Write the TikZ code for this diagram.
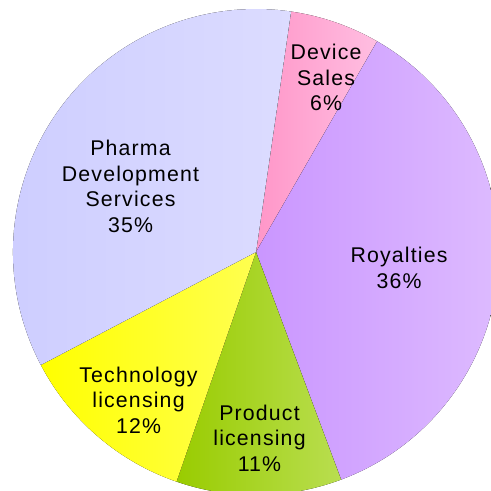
\documentclass[tikz,border=0pt]{standalone}
\usepackage{fontspec}
\setmainfont{Liberation Sans}[LetterSpace=5.5]
\begin{document}
\begin{tikzpicture}[x=1pt,y=1pt,
  lbl/.style={align=center,inner sep=0pt,font=\fontsize{21.3}{25.5}\selectfont},
]
\def\R{243}
\useasboundingbox (0,0) rectangle (491,491);
\clip (0,0) rectangle (491,491);
\coordinate (c) at (256,239);
% Device Sales 6%
\fill[left color={rgb,255:red,255;green,150;blue,200}, right color={rgb,255:red,255;green,190;blue,225}]
  (c) -- ++(81.7:\R) arc[start angle=81.7, end angle=60.1, radius=\R] -- cycle;
% Royalties 36%
\fill[left color={rgb,255:red,202;green,150;blue,255}, right color={rgb,255:red,224;green,192;blue,255}]
  (c) -- ++(60.1:\R) arc[start angle=60.1, end angle=-69.5, radius=\R] -- cycle;
% Product licensing 11%
\fill[left color={rgb,255:red,153;green,204;blue,0}, right color={rgb,255:red,185;green,222;blue,80}]
  (c) -- ++(-69.5:\R) arc[start angle=-69.5, end angle=-109.1, radius=\R] -- cycle;
% Technology licensing 12%
\fill[left color={rgb,255:red,255;green,255;blue,0}, right color={rgb,255:red,255;green,255;blue,80}]
  (c) -- ++(-109.1:\R) arc[start angle=-109.1, end angle=-152.3, radius=\R] -- cycle;
% Pharma Development Services 35%
\fill[left color={rgb,255:red,204;green,204;blue,255}, right color={rgb,255:red,220;green,220;blue,255}]
  (c) -- ++(-152.3:\R) arc[start angle=-152.3, end angle=-278.3, radius=\R] -- cycle;

\node[lbl] (device) at (326,413.5) {Device\\Sales\\6\%};
\node[lbl] (roy) at (399,223) {Royalties\\36\%};
\node[lbl] (prod) at (259.5,53) {Product\\licensing\\11\%};
\node[lbl] (tech) at (138.5,91) {Technology\\licensing\\12\%};
\node[lbl] (pharma) at (130.5,304.5) {Pharma\\Development\\Services\\35\%};
\end{tikzpicture}
\end{document}
